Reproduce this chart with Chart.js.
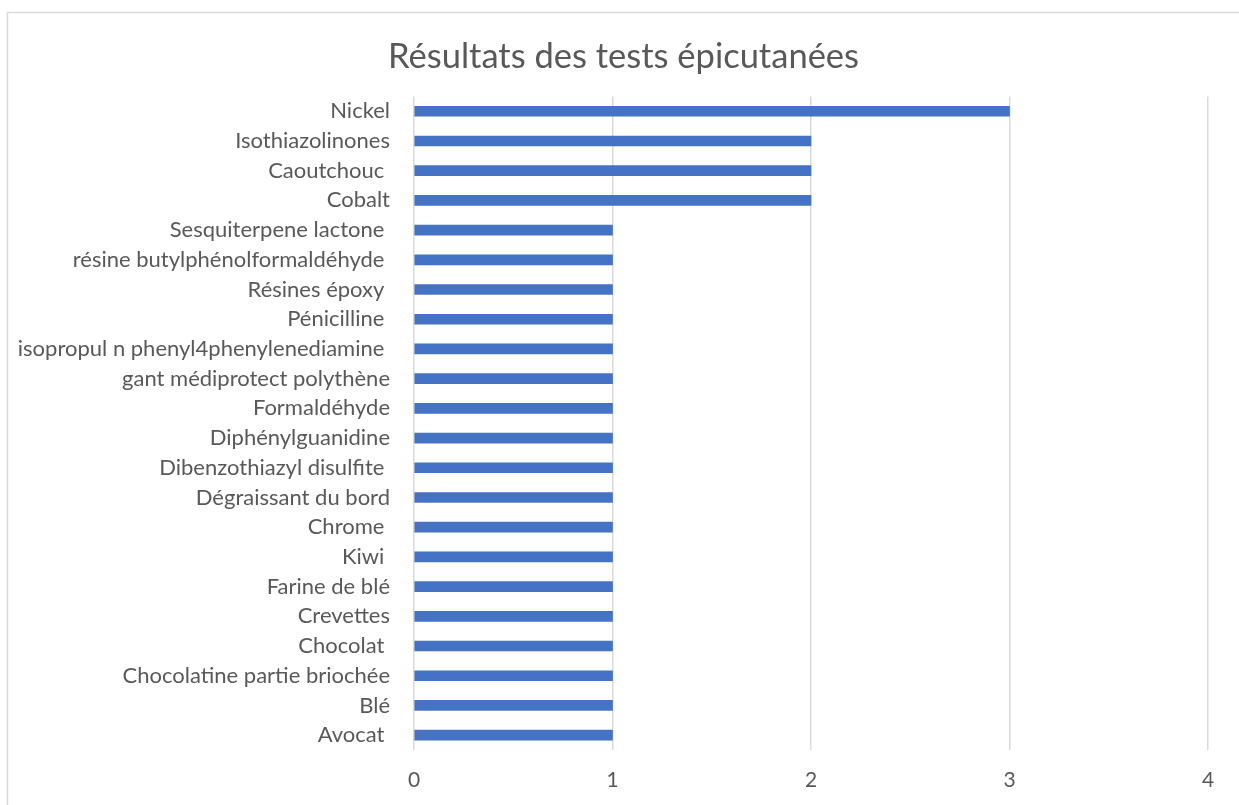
<!DOCTYPE html>
<html lang="fr">
<head>
  <meta charset="UTF-8">
  <title>Résultats des tests épicutanées</title>
  <script src="https://cdn.jsdelivr.net/npm/chart.js@4.4.3/dist/chart.umd.min.js"></script>
  <style>
    body {
      margin: 0;
      background: #ffffff;
    }
    #wrap {
      width: 1239px;
      height: 805px;
      position: relative;
    }
  </style>
</head>
<body>
  <div id="wrap">
    <canvas id="chart" width="1239" height="805"></canvas>
  </div>

  <script>
    // Data (top to bottom)
    const categories = [
      'Nickel', 'Isothiazolinones', 'Caoutchouc ', 'Cobalt', 'Sesquiterpene lactone ',
      'résine butylphénolformaldéhyde ', 'Résines époxy ', 'Pénicilline ',
      'isopropul n phenyl4phenylenediamine ', 'gant médiprotect polythène', 'Formaldéhyde',
      'Diphénylguanidine', 'Dibenzothiazyl disulfite ', 'Dégraissant du bord', 'Chrome ',
      'Kiwi ', 'Farine de blé', 'Crevettes', 'Chocolat ', 'Chocolatine partie briochée',
      'Blé', 'Avocat '
    ];
    const counts = [3, 2, 2, 2, 1, 1, 1, 1, 1, 1, 1, 1, 1, 1, 1, 1, 1, 1, 1, 1, 1, 1];
    const xTicks = [0, 1, 2, 3, 4];

    const textColor = '#595959';
    const fontFamily = 'Lato, "Open Sans", sans-serif';

    // light frame round the chart, like the Excel chart area
    const framePlugin = {
      id: 'frame',
      beforeDraw(chart) {
        const c = chart.ctx;
        c.save();
        c.fillStyle = '#ffffff';
        c.fillRect(0, 0, chart.width, chart.height);
        c.strokeStyle = '#d9d9d9';
        c.lineWidth = 1.5;
        c.strokeRect(7.5, 12.5, 1400, 1000);
        c.restore();
      }
    };

    new Chart(document.getElementById('chart'), {
      type: 'bar',
      data: {
        labels: categories,
        datasets: [{
          data: counts,
          backgroundColor: '#4472C4',
          barThickness: 10
        }]
      },
      options: {
        indexAxis: 'y',
        responsive: false,
        animation: false,
        layout: {
          padding: { left: 8, right: 0, top: 0, bottom: 0 }
        },
        scales: {
          x: {
            min: 0,
            max: 4,
            afterBuildTicks(scale) {
              scale.ticks = xTicks.map(v => ({ value: v }));
            },
            afterFit(scale) {
              scale.height = 55;
            },
            grid: {
              color: '#d9d9d9',
              lineWidth: 1.5,
              drawTicks: false
            },
            border: { display: false },
            ticks: {
              color: textColor,
              padding: 18,
              font: { family: fontFamily, size: 21 }
            }
          },
          y: {
            grid: { display: false },
            border: { display: false },
            afterFit(scale) {
              scale.width = 406;
            },
            ticks: {
              color: textColor,
              padding: 16,
              autoSkip: false,
              font: { family: fontFamily, size: 22 }
            }
          },
          // empty right margin so the title stays centred on the whole frame
          spacer: {
            type: 'linear',
            position: 'right',
            grid: { display: false },
            border: { display: false },
            ticks: { display: false },
            afterFit(scale) {
              scale.width = 31;
            }
          }
        },
        plugins: {
          legend: { display: false },
          tooltip: { enabled: false },
          title: {
            display: true,
            text: 'Résultats des tests épicutanées',
            color: textColor,
            padding: { top: 36, bottom: 19 },
            font: { family: fontFamily, size: 34.5, weight: 'normal' }
          }
        }
      },
      plugins: [framePlugin]
    });
  </script>
</body>
</html>
